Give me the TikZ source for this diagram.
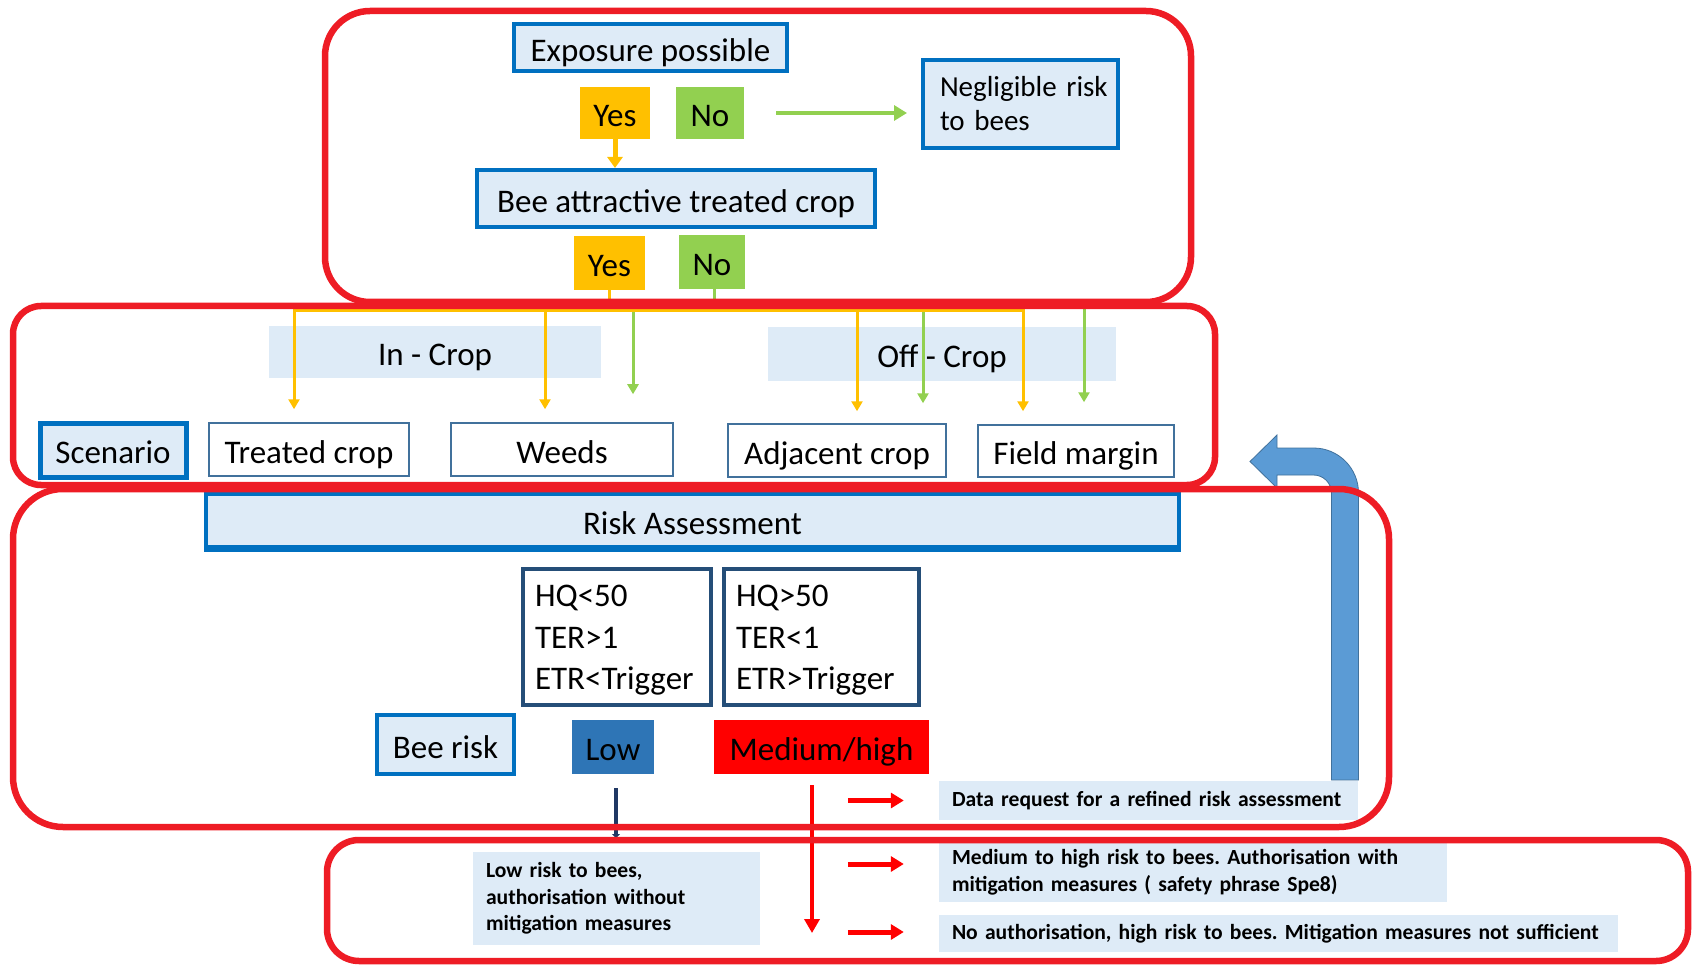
\documentclass[tikz,border=0pt]{standalone}
\usepackage{fontspec}
\setmainfont{Carlito}
\usetikzlibrary{arrows.meta}
\definecolor{redc}{HTML}{EE1C25}
\definecolor{blueb}{HTML}{0070C0}
\definecolor{lfill}{HTML}{DEEBF7}
\definecolor{thinb}{HTML}{41719C}
\definecolor{hqb}{HTML}{254E78}
\definecolor{lowf}{HTML}{2E75B6}
\definecolor{orangec}{HTML}{FFC000}
\definecolor{greenc}{HTML}{92D050}
\definecolor{uarrow}{HTML}{5B9BD5}
\definecolor{navyc}{HTML}{203864}
\newcommand\mainf{\fontsize{33}{38}\selectfont}
\newcommand\neglf{\fontsize{29}{34}\selectfont}
\newcommand\hqf{\fontsize{33}{41.5}\selectfont}
\newcommand\notef{\frenchspacing\bfseries\fontsize{21.6}{26.5}\selectfont}
\begin{document}
\begin{tikzpicture}[x=1pt,y=-1pt,
  tx/.style={text height=32pt,text depth=4.8pt},
  bluebox/.style={draw=blueb,line width=4pt,fill=lfill,inner sep=0pt,font=\mainf},
  thinbox/.style={draw=thinb,line width=1.5pt,fill=white,inner sep=0pt,font=\mainf,tx},
  lab/.style={fill=lfill,inner sep=0pt,font=\mainf,tx},
  yesbox/.style={fill=orangec,inner sep=0pt,font=\mainf,tx},
  nobox/.style={fill=greenc,inner sep=0pt,font=\mainf,tx},
  hqbox/.style={draw=hqb,line width=4pt,fill=white,inner xsep=12pt,inner ysep=0pt,align=left,font=\hqf},
  note/.style={fill=lfill,inner xsep=13pt,inner ysep=0pt,align=left,font=\notef},
  redbox/.style={draw=redc,line width=6.5pt},
  oarrow/.style={draw=orangec,line width=3pt,-{Triangle[width=11pt,length=10pt]}},
  garrow/.style={draw=greenc,line width=3pt,-{Triangle[width=11pt,length=10pt]}},
  oline/.style={draw=orangec,line width=3pt},
  gline/.style={draw=greenc,line width=3pt},
  rarrow/.style={draw=red,line width=5pt,-{Triangle[width=15pt,length=13pt]}},
]
\useasboundingbox (0,0) rectangle (1697,965);

% ---- top block
\node[bluebox,tx,minimum width=273pt,minimum height=47pt] (expo) at (650.5,47.5) {Exposure possible};
\node[yesbox,minimum width=70pt,minimum height=52pt] (yes1) at (615,113) {Yes};
\node[nobox,minimum width=68pt,minimum height=52pt] (no1) at (710,113) {No};
\node[bluebox,font=\neglf,minimum width=195pt,minimum height=88pt,align=left,text width=161pt,inner xsep=17pt] (negl) at (1020.5,104) {\mbox{Negligible risk}\\to bees};
\node[bluebox,tx,minimum width=398pt,minimum height=57pt] (bee) at (676,198.5) {Bee attractive treated crop};
\node[yesbox,minimum width=71pt,minimum height=54pt] (yes2) at (609.5,263) {Yes};
\node[nobox,minimum width=66pt,minimum height=54pt] (no2) at (712,262) {No};

\draw[draw=orangec,line width=5pt,-{Triangle[width=15pt,length=11pt]}] (yes1.south) -- (yes1.south |- bee.north);
\draw[draw=greenc,line width=4pt,-{Triangle[width=15pt,length=13pt]}] ([xshift=32pt]no1.east) -- ([xshift=-14pt]negl.west |- no1.east);

% ---- scenario block
\node[lab,minimum width=332pt,minimum height=52pt] (incrop) at (435,352) {In - Crop};
\node[lab,minimum width=348pt,minimum height=54pt] (offcrop) at (942,354) {Off - Crop};
\node[bluebox,tx,line width=5pt,minimum width=146pt,minimum height=54pt] (scen) at (113,450) {Scenario};
\node[thinbox,minimum width=200pt,minimum height=53pt] (tc) at (309,449.5) {Treated crop};
\node[thinbox,minimum width=222pt,minimum height=53pt] (weeds) at (562,449.5) {Weeds};
\node[thinbox,minimum width=218pt,minimum height=53pt] (adj) at (837,450.5) {Adjacent crop};
\node[thinbox,minimum width=196pt,minimum height=52pt] (fm) at (1076,451) {Field margin};

\coordinate (obar) at (609.5,311);
\coordinate (gbar) at (714,305);
\draw[gline] ([xshift=2pt]no2.south) -- (gbar);
\draw[garrow,shorten >=28pt] (gbar) -| ([xshift=71pt]weeds.north);
\draw[garrow,shorten >=20pt] (gbar) -| ([xshift=86pt]adj.north);
\draw[garrow,shorten >=22pt] (gbar) -| ([xshift=8pt]fm.north);
\draw[oline] (yes2.south) -- (obar);
\draw[oarrow,shorten >=13pt] (obar) -| ([xshift=-15pt]tc.north);
\draw[oarrow,shorten >=13pt] (obar) -| ([xshift=-17pt]weeds.north);
\draw[oarrow,shorten >=12pt] (obar) -| ([xshift=20pt]adj.north);
\draw[oarrow,shorten >=13pt] (obar) -| ([xshift=-53pt]fm.north);

% ---- risk assessment block
\node[bluebox,tx,minimum width=973pt,minimum height=53pt] (risk) at (692.5,520.5) {Risk Assessment};
\draw[blueb,line width=6pt] (risk.south west) -- (risk.south east);
\node[hqbox,text width=164pt,minimum height=136pt] (hq1) at (617,637) {\rule{0pt}{28pt}HQ<50\\TER>1\\ETR<Trigger};
\node[hqbox,text width=171pt,minimum height=136pt] (hq2) at (821.5,637) {\rule{0pt}{28pt}HQ>50\\TER<1\\ETR>Trigger};
\node[bluebox,tx,minimum width=137pt,minimum height=59pt] (beerisk) at (445.5,744.5) {Bee risk};
\node[fill=lowf,inner sep=0pt,font=\mainf,tx,minimum width=82pt,minimum height=54pt] (low) at (613,747) {Low};
\node[fill=red,inner sep=0pt,font=\mainf,tx,minimum width=215pt,minimum height=54pt] (med) at (821.5,747) {Medium/high};

\node[note,minimum width=419pt,minimum height=39pt,text width=393pt] (data) at (1148.5,800.5) {\mbox{Data request for a refined risk assessment}};
\node[note,minimum width=287pt,minimum height=93pt,text width=261pt] (lowrisk) at (616.5,898.5) {\mbox{Low risk to bees,}\\\mbox{authorisation without}\\\mbox{mitigation measures}};
\node[note,minimum width=508pt,minimum height=60pt,text width=482pt] (medhigh) at (1193,872) {\mbox{Medium to high risk to bees. Authorisation with}\\\mbox{mitigation measures ( safety phrase Spe8)}};
\node[note,minimum width=679pt,minimum height=37pt,text width=653pt] (noauth) at (1278.5,933.5) {\mbox{No authorisation, high risk to bees. Mitigation measures not sufficient}};

% connectors from risk classes
\coordinate (lowend) at (616,838);
\draw[navyc,line width=4pt,-{Triangle[width=8pt,length=4pt]}] ([xshift=3pt,yshift=-14pt]low.south) -- (lowend);
\coordinate (medend) at (812,933);
\draw[draw=red,line width=4pt,-{Triangle[width=15pt,length=14pt]}] ([xshift=-9.5pt,yshift=-11pt]med.south) -- (medend);
\draw[rarrow] ([xshift=-91pt]data.west) -- ([xshift=-35pt]data.west);
\draw[rarrow] ([xshift=-91pt,yshift=8pt]medhigh.west) -- ([xshift=-35pt,yshift=8pt]medhigh.west);
\draw[rarrow] ([xshift=-91pt,yshift=1.5pt]noauth.west) -- ([xshift=-35pt,yshift=1.5pt]noauth.west);

% ---- U-turn arrow back to scenarios
\fill[uarrow,draw=thinb,line width=0.8pt]
  (1358.5,780) -- (1358.5,493)
  .. controls (1358.5,468.1) and (1338.4,448) .. (1313.5,448)
  -- (1277,448) -- (1277,435) -- (1250,461.5) -- (1277,488) -- (1277,475) -- (1313.5,475)
  .. controls (1323.4,475) and (1331.5,483.1) .. (1331.5,493)
  -- (1331.5,780) -- cycle;

% ---- red grouping frames
\draw[redbox,rounded corners=45pt] (325,11) rectangle (1191,302);
\draw[redbox,rounded corners=28pt] (13,306) rectangle (1215,485);
\draw[redbox,rounded corners=50pt] (13,489) rectangle (1389,827);
\draw[redbox,rounded corners=32pt] (327,840) rectangle (1688,961);
\end{tikzpicture}
\end{document}
